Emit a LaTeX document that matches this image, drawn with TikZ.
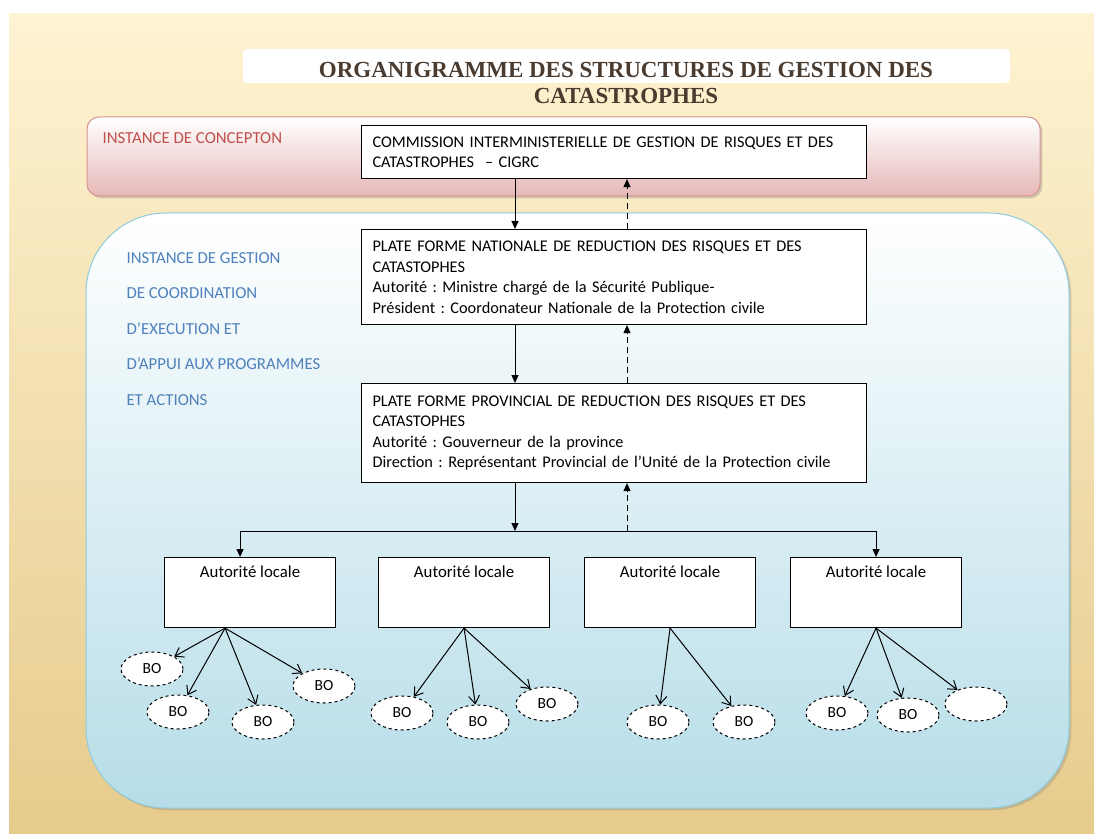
\documentclass[tikz,border=0pt]{standalone}
\usepackage{fontspec}
\setmainfont{Carlito}
\newfontfamily\titrefont{Liberation Serif}
\usetikzlibrary{arrows.meta,shapes.geometric,shadows}
\frenchspacing
\definecolor{fondhaut}{HTML}{FEF3D2}
\definecolor{fondbas}{HTML}{E6CB8C}
\definecolor{roseBas}{HTML}{E6B8B7}
\definecolor{roseBord}{HTML}{D49593}
\definecolor{bleuBas}{HTML}{B6DDE8}
\definecolor{bleuBord}{HTML}{8FCBDB}
\definecolor{rougeTxt}{HTML}{C0504D}
\definecolor{bleuTxt}{HTML}{4F81BD}
\definecolor{brunTitre}{HTML}{4A3B30}

\begin{document}
\begin{tikzpicture}[x=1pt,y=-1pt,
    boite/.style={draw,line width=1.1pt,fill=white,anchor=north west,align=left,
      inner xsep=11pt,text width=483pt,font=\fontsize{16.3}{20.5}\selectfont},
    locale/.style={draw,line width=1.1pt,fill=white,anchor=north west,
      minimum width=171pt,minimum height=70pt,
      label={[anchor=north,yshift=-5pt,font=\fontsize{16.8}{19}\selectfont]north:Autorité locale}},
    bo/.style={ellipse,draw,dashed,line width=1pt,fill=white,minimum width=62pt,
      minimum height=34pt,inner sep=0pt,font=\fontsize{15.5}{17}\selectfont},
    descente/.style={-{Triangle[length=8pt,width=7pt]},line width=1pt},
    montee/.style={descente,dash pattern=on 6pt off 4pt},
    fils/.style={-{Straight Barb[length=8pt,width=11pt]},line width=1pt}]
    % fond
    \useasboundingbox (0,0) rectangle (1094,834);
    \fill[white] (0,0) rectangle (1094,834);
    \shade[top color=fondhaut,bottom color=fondbas] (9,14) rectangle (1094,834);
    % titre
    \fill[white,rounded corners=4pt] (243,49) rectangle (1010,83);
    \node[font=\titrefont\bfseries\fontsize{23}{26}\selectfont,text=brunTitre,align=center] (titre) at (626,83)
        {ORGANIGRAMME DES STRUCTURES DE GESTION DES\\CATASTROPHES};
    % instance de conception
    \shadedraw[top color=white,bottom color=roseBas,draw=roseBord,line width=1pt,
        rounded corners=12pt,drop shadow={opacity=0.35}] (87,117) rectangle (1040,196);
    \node[anchor=west,text=rougeTxt,font=\fontsize{16.8}{19}\selectfont] (conception) at (99,138) {INSTANCE DE CONCEPTON};
    % instance de gestion
    \shadedraw[top color=white,bottom color=bleuBas,draw=bleuBord,line width=1pt,
        rounded corners=80pt,drop shadow={opacity=0.3}] (86,213) rectangle (1069,808);
    \node[anchor=west,align=left,text=bleuTxt,font=\fontsize{16.8}{35.5}\selectfont] (gestion) at (123,329)
        {INSTANCE DE GESTION\\DE COORDINATION\\D’EXECUTION ET\\D’APPUI AUX PROGRAMMES\\ET ACTIONS};
    % boites
    \node[boite,minimum height=53pt] (cigrc) at (361,125)
        {COMMISSION INTERMINISTERIELLE DE GESTION DE RISQUES ET DES\\CATASTROPHES~~– CIGRC};
    \node[boite,minimum height=95pt] (nationale) at (361,229)
        {PLATE FORME NATIONALE DE REDUCTION DES RISQUES ET DES\\CATASTOPHES\\
         Autorité : Ministre chargé de la Sécurité Publique-\\
         Président : Coordonateur Nationale de la Protection civile};
    \node[boite,minimum height=99pt] (provinciale) at (361,383)
        {PLATE FORME PROVINCIAL DE REDUCTION DES RISQUES ET DES\\CATASTOPHES\\
         Autorité : Gouverneur de la province\\
         Direction : Représentant Provincial de l’Unité de la Protection civile};
    \node[locale] (loc1) at (164,557) {};
    \node[locale] (loc2) at (378,557) {};
    \node[locale] (loc3) at (584,557) {};
    \node[locale] (loc4) at (790,557) {};
    % fleches
    \coordinate (descx) at (515,0);
    \coordinate (montx) at (627,0);
    \coordinate (barre) at (515,531);
    \draw[descente] (cigrc.south -| descx) -- (nationale.north -| descx);
    \draw[montee] (nationale.north -| montx) -- (cigrc.south -| montx);
    \draw[descente] (nationale.south -| descx) -- (provinciale.north -| descx);
    \draw[montee] (provinciale.north -| montx) -- (nationale.south -| montx);
    \draw[descente] (provinciale.south -| descx) -- (barre);
    \draw[montee] (barre -| montx) -- (provinciale.south -| montx);
    \draw[descente] (barre) -| ([xshift=-10pt]loc1.north);
    \draw[descente] (barre) -| (loc4.north);
    % BO
    \node[bo] (bo11) at (152,669) {BO};
    \node[bo] (bo12) at (178,712) {BO};
    \node[bo] (bo13) at (263,722) {BO};
    \node[bo] (bo14) at (324,686) {BO};
    \node[bo] (bo21) at (402,713) {BO};
    \node[bo] (bo22) at (478,722) {BO};
    \node[bo] (bo23) at (547,704) {BO};
    \node[bo] (bo31) at (658,722) {BO};
    \node[bo] (bo32) at (744,722) {BO};
    \node[bo] (bo41) at (837,713) {BO};
    \node[bo] (bo42) at (908,715) {BO};
    \node[bo] (bo43) at (976,704) {};
    \foreach \b in {bo11,bo12,bo13,bo14}
        \draw[fils] ([xshift=-25pt]loc1.south) -- (\b);
    \foreach \b in {bo21,bo22,bo23}
        \draw[fils] (loc2.south) -- (\b);
    \foreach \b in {bo31,bo32}
        \draw[fils] (loc3.south) -- (\b);
    \foreach \b in {bo41,bo42,bo43}
        \draw[fils] (loc4.south) -- (\b);
\end{tikzpicture}
\end{document}
